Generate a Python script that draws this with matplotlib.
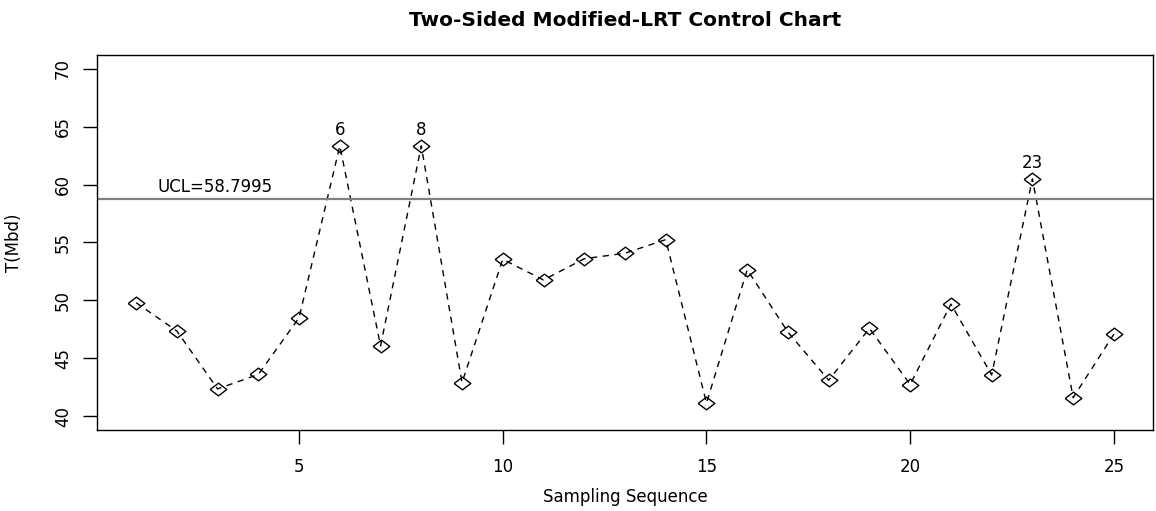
import matplotlib
matplotlib.use("Agg")
import matplotlib.pyplot as plt

sample = list(range(1, 26))
t_mbd = [49.8, 47.35, 42.35, 43.6, 48.5, 63.35, 46.07, 63.35, 42.9, 53.55,
         51.76, 53.6, 54.07, 55.25, 41.13, 52.65, 47.26, 43.1, 47.58, 42.73,
         49.68, 43.56, 60.5, 41.6, 47.08]
ucl = 58.7995
flagged = [6, 8, 23]
xticks = [5, 10, 15, 20, 25]
yticks = [40, 45, 50, 55, 60, 65, 70]

plt.rcParams['font.family'] = ['DejaVu Sans']

# horizontally stretched diamond (reference image is stretched in x)
diamond = [(-1.31, 0), (0, 1), (1.31, 0), (0, -1), (-1.31, 0)]

fig = plt.figure(figsize=(11.56, 5.11), dpi=100)
ax = fig.add_axes([97/1156, 1-430/511, (1153-97)/1156, (430-55)/511])

ax.plot(sample, t_mbd, color='black', linestyle=(0, (4.5, 4)), linewidth=1.0,
        marker=diamond, markersize=12, markerfacecolor='none',
        markeredgecolor='black', markeredgewidth=1.0)
ax.axhline(ucl, color='#808080', linewidth=1.6)
ax.text(2.95, ucl + 0.2, f"UCL={ucl}", ha='center', va='bottom', fontsize=12)
for i in flagged:
    ax.text(i, t_mbd[i-1] + 0.6, str(i), ha='center', va='bottom', fontsize=12)

ax.set_xlim(0.04, 25.96)
ax.set_ylim(38.8, 71.2)
ax.set_xticks(xticks)
ax.set_yticks(yticks)
ax.tick_params(axis='both', direction='out', length=10, width=1, labelsize=12, color='black')
ax.tick_params(axis='x', pad=10)
ax.tick_params(axis='y', pad=8)
for lab in ax.get_yticklabels():
    lab.set_rotation(90)
    lab.set_va('center')
for sp in ax.spines.values():
    sp.set_linewidth(1.0)
    sp.set_color('black')

ax.set_xlabel("Sampling Sequence", fontsize=12, labelpad=9)
ax.set_ylabel("T(Mbd)", fontsize=12, labelpad=22)
fig.text((97 + 1153) / 2 / 1156, 1 - 20/511, "Two-Sided Modified-LRT Control Chart",
         ha='center', va='center', fontsize=14.5, fontweight='bold')

fig.savefig("out.png", dpi=100)
